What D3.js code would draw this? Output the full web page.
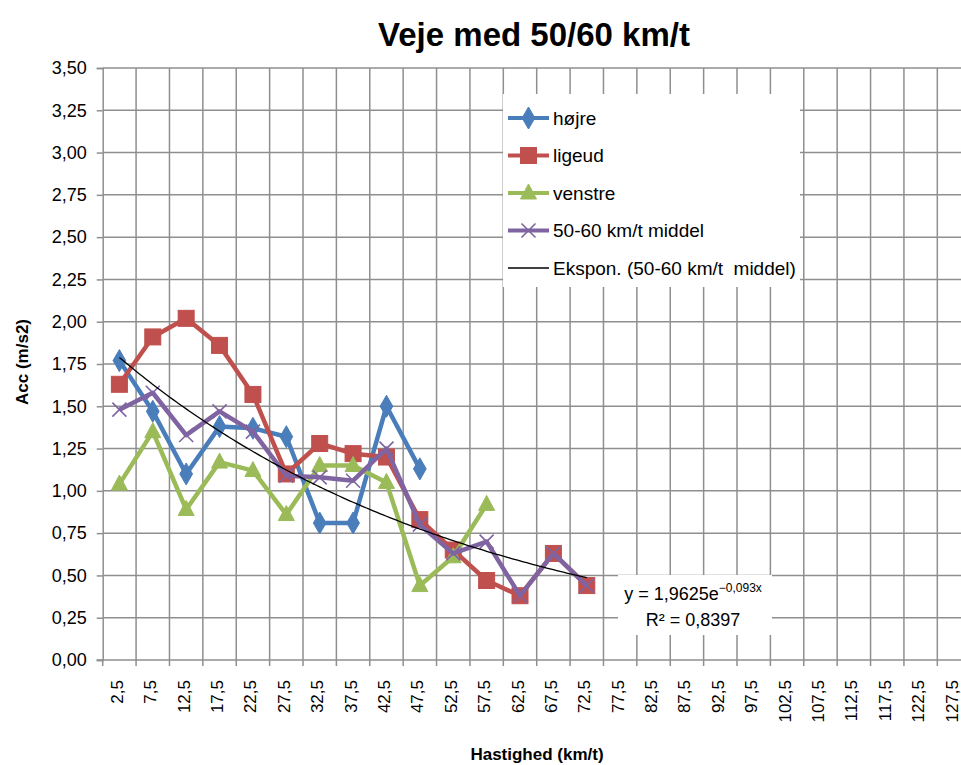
<!DOCTYPE html>
<html>
<head>
<meta charset="utf-8">
<script src="https://cdn.jsdelivr.net/npm/d3@7"></script>
<style>
  html, body { margin: 0; padding: 0; background: #fff; }
  svg { display: block; font-family: "Liberation Sans", Arial, sans-serif; }
</style>
</head>
<body>
<svg id="chart" width="961" height="765"></svg>
<script>
// ---------- data ----------
const categories = [2.5, 7.5, 12.5, 17.5, 22.5, 27.5, 32.5, 37.5, 42.5, 47.5, 52.5, 57.5, 62.5,
  67.5, 72.5, 77.5, 82.5, 87.5, 92.5, 97.5, 102.5, 107.5, 112.5, 117.5, 122.5, 127.5];
const hojre   = [1.77, 1.47, 1.10, 1.38, 1.37, 1.32, 0.81, 0.81, 1.50, 1.13];
const ligeud  = [1.63, 1.91, 2.02, 1.86, 1.57, 1.10, 1.28, 1.22, 1.20, 0.83, 0.65, 0.47, 0.38, 0.63, 0.44];
const venstre = [1.04, 1.35, 0.89, 1.17, 1.12, 0.86, 1.15, 1.15, 1.05, 0.44, 0.61, 0.92];
const middel  = [1.48, 1.58, 1.33, 1.47, 1.35, 1.09, 1.08, 1.06, 1.25, 0.80, 0.63, 0.70, 0.38, 0.63, 0.44];
const yTicks  = [0, 0.25, 0.5, 0.75, 1, 1.25, 1.5, 1.75, 2, 2.25, 2.5, 2.75, 3, 3.25, 3.5];
const trendA = 1.9625, trendB = -0.093, trendR2 = 0.8397;
const seriesNames = ["højre", "ligeud", "venstre", "50-60 km/t middel", "Ekspon. (50-60 km/t  middel)"];

// ---------- setup ----------
const loc = d3.formatLocale({decimal: ",", thousands: ".", grouping: [3], currency: ["", " kr"]});
const f2 = loc.format(".2f"), f1 = loc.format(".1f"), f4 = loc.format(".4f"), f3 = loc.format(".3f");

const svg = d3.select("#chart");
const L = 102.7, R = 970.7, T = 68, B = 660;
const x = d3.scaleBand().domain(categories).range([L, R]).padding(0);
const y = d3.scaleLinear().domain([0, 3.5]).range([B, T]);
const cx = i => x(categories[i]) + x.bandwidth() / 2;

const gridColor = "#8f8f8f";

// y axis
const yAxis = d3.axisLeft(y).tickValues(yTicks).tickFormat(f2).tickSize(6).tickPadding(10);
const gy = svg.append("g").attr("transform", `translate(${L},0)`).call(yAxis);
gy.select(".domain").attr("stroke", gridColor).attr("stroke-width", 1.5);
gy.selectAll(".tick line").attr("stroke", gridColor).attr("stroke-width", 1.5);
gy.selectAll(".tick text").attr("font-size", 18).attr("fill", "#000")
  .attr("font-family", "Liberation Sans, Arial, sans-serif");

// horizontal gridlines
svg.append("g").selectAll("line").data(yTicks.filter(d => d > 0)).join("line")
  .attr("x1", L).attr("x2", R).attr("y1", d => y(d)).attr("y2", d => y(d))
  .attr("stroke", gridColor).attr("stroke-width", 1.5);

// vertical gridlines at band boundaries, plus tick marks below axis
const bounds = categories.map(c => x(c)).concat([R]);
svg.append("g").selectAll("line").data(bounds.slice(1)).join("line")
  .attr("x1", d => d).attr("x2", d => d).attr("y1", T).attr("y2", B)
  .attr("stroke", gridColor).attr("stroke-width", 1.5);
svg.append("g").selectAll("line").data(bounds).join("line")
  .attr("x1", d => d).attr("x2", d => d).attr("y1", B).attr("y2", B + 6)
  .attr("stroke", gridColor).attr("stroke-width", 1.5);
svg.append("line").attr("x1", L - 6).attr("x2", R).attr("y1", B).attr("y2", B)
  .attr("stroke", gridColor).attr("stroke-width", 1.5);

// x tick labels (rotated)
const xAxis = d3.axisBottom(x).tickFormat(f1).tickSize(0);
const gx = svg.append("g").attr("transform", `translate(0,${B})`).call(xAxis);
gx.select(".domain").remove();
gx.selectAll(".tick text")
  .attr("font-size", 17).attr("fill", "#000")
  .attr("font-family", "Liberation Sans, Arial, sans-serif")
  .attr("text-anchor", "end")
  .attr("dy", null).attr("y", null)
  .attr("dominant-baseline", "central")
  .attr("transform", "translate(-2,20) rotate(-90)");

// ---------- series ----------
const colors = ["#4A7EBB", "#C0504D", "#9BBB59", "#8064A2"];
const data = [hojre, ligeud, venstre, middel];
const line = d3.line().x(d => cx(d.i)).y(d => y(d.v));

function marker(g, type, color) {
  if (type === 0) { // diamond
    g.append("path").attr("d", d3.symbol(d3.symbolDiamond, 140)())
      .attr("fill", color).attr("stroke", color).attr("stroke-width", 1);
  } else if (type === 1) { // square
    g.append("rect").attr("x", -8).attr("y", -8).attr("width", 16).attr("height", 16)
      .attr("fill", color).attr("stroke", color).attr("stroke-width", 1);
  } else if (type === 2) { // triangle
    g.append("path").attr("d", "M0,-9 L8,6 L-8,6 Z")
      .attr("fill", color).attr("stroke", color).attr("stroke-width", 1);
  } else { // x
    g.append("path").attr("d", "M-7,-7 L7,7 M-7,7 L7,-7")
      .attr("fill", "none").attr("stroke", color).attr("stroke-width", 1.6);
  }
}

data.forEach((arr, s) => {
  const pts = arr.map((v, i) => ({i, v}));
  const g = svg.append("g");
  g.append("path").datum(pts).attr("d", line)
    .attr("fill", "none").attr("stroke", colors[s]).attr("stroke-width", 4.5)
    .attr("stroke-linejoin", "round");
  g.selectAll("g.m").data(pts).join("g").attr("class", "m")
    .attr("transform", d => `translate(${cx(d.i)},${y(d.v)})`)
    .each(function () { marker(d3.select(this), s, colors[s]); });
});

// exponential trendline of middel series (x = 1..n), from the chart's equation
const n = middel.length;
const tScale = d3.scaleLinear().domain([1, n]).range([cx(0), cx(n - 1)]);
const tPts = d3.range(1, n + 0.001, 0.1).map(t => [tScale(t), y(trendA * Math.exp(trendB * t))]);
svg.append("path").attr("d", d3.line()(tPts))
  .attr("fill", "none").attr("stroke", "#000").attr("stroke-width", 1.3);

// ---------- equation label ----------
svg.append("rect").attr("x", 618).attr("y", 575).attr("width", 154).attr("height", 60).attr("fill", "#fff");
const eq = svg.append("text").attr("x", 693).attr("y", 600).attr("text-anchor", "middle")
  .attr("font-size", 18).attr("fill", "#000");
eq.append("tspan").text("y = " + f4(trendA) + "e");
eq.append("tspan").attr("font-size", 12).attr("dy", -8).text(f3(trendB) + "x");
svg.append("text").attr("x", 693).attr("y", 626).attr("text-anchor", "middle")
  .attr("font-size", 18).attr("fill", "#000").text("R² = " + f4(trendR2));

// ---------- legend ----------
const lg = svg.append("g");
lg.append("rect").attr("x", 503).attr("y", 94).attr("width", 297).attr("height", 193).attr("fill", "#fff");
seriesNames.forEach((name, i) => {
  const ry = 118 + i * 37.5;
  const row = lg.append("g");
  row.append("line").attr("x1", 508).attr("x2", 549).attr("y1", ry).attr("y2", ry)
    .attr("stroke", i < 4 ? colors[i] : "#000").attr("stroke-width", i < 4 ? 4 : 1.3);
  if (i < 4) {
    const m = row.append("g").attr("transform", `translate(528.5,${ry})`);
    marker(m, i, colors[i]);
  }
  row.append("text").attr("x", 553).attr("y", ry).attr("dominant-baseline", "central")
    .attr("xml:space", "preserve").style("white-space", "pre")
    .attr("font-size", 19).attr("fill", "#000").text(name);
});

// ---------- titles ----------
svg.append("text").attr("x", 534).attr("y", 46).attr("text-anchor", "middle")
  .attr("font-size", 33).attr("font-weight", "bold").attr("fill", "#000").text("Veje med 50/60 km/t");
svg.append("text").attr("x", 537).attr("y", 760).attr("text-anchor", "middle")
  .attr("font-size", 17).attr("font-weight", "bold").attr("fill", "#000").text("Hastighed (km/t)");
svg.append("text").attr("transform", "translate(28,362) rotate(-90)").attr("text-anchor", "middle")
  .attr("font-size", 17).attr("font-weight", "bold").attr("fill", "#000").text("Acc (m/s2)");
</script>
</body>
</html>
